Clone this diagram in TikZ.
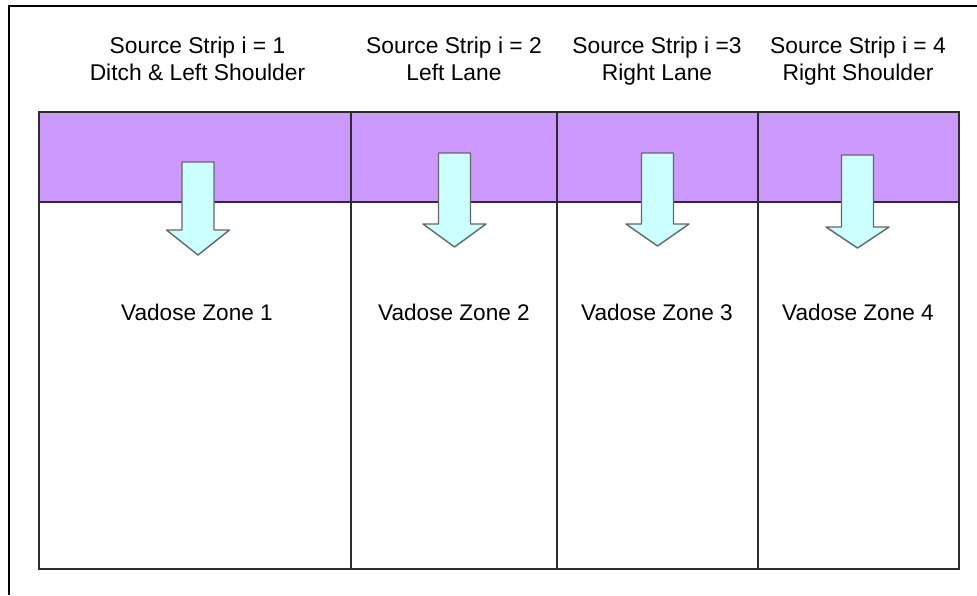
\documentclass[tikz,border=0pt]{standalone}
\usepackage{fontspec}
\setmainfont{Liberation Sans}
\usetikzlibrary{positioning}

\definecolor{stripviolet}{RGB}{204,153,255}
\definecolor{flowcyan}{RGB}{204,255,255}
\definecolor{gridgray}{RGB}{45,45,45}

\tikzset{
  striplabel/.style={align=center, inner sep=0pt, anchor=base,
    font=\fontsize{22.8}{27}\selectfont},
  zonelabel/.style={inner sep=0pt, font=\fontsize{22.6}{27}\selectfont},
  gridline/.style={draw=gridgray, line width=1.6pt},
  flowarrow/.style={draw=black!60, line width=1.4pt, fill=flowcyan, line join=round}
}

\begin{document}
\begin{tikzpicture}[x=1pt,y=-1pt]
  \useasboundingbox (0,0) rectangle (977,595);

  % frame
  \draw[line width=2pt] (9,595) -- (9,6) -- (977,6);

  % source strips
  \fill[stripviolet] (39,112) rectangle (959,202);
  \draw[gridline] (39,112) rectangle (959,569);
  \draw[gridline] (39,202) -- (959,202);
  \draw[gridline] (351,112) -- (351,569);
  \draw[gridline] (557,112) -- (557,569);
  \draw[gridline] (758,112) -- (758,569);

  % infiltration arrows
  \draw[flowarrow] (182,162) -- ++(32,0) -- ++(0,68) -- ++(15.5,0) -- ++(-31.5,25)
    -- ++(-31.5,-25) -- ++(15.5,0) -- cycle;
  \draw[flowarrow] (438.5,153) -- ++(32,0) -- ++(0,71) -- ++(15.5,0) -- ++(-31.5,23)
    -- ++(-31.5,-23) -- ++(15.5,0) -- cycle;
  \draw[flowarrow] (641.5,153) -- ++(32,0) -- ++(0,71) -- ++(15.5,0) -- ++(-31.5,22)
    -- ++(-31.5,-22) -- ++(15.5,0) -- cycle;
  \draw[flowarrow] (841.5,155) -- ++(32,0) -- ++(0,72) -- ++(15.5,0) -- ++(-31.5,21)
    -- ++(-31.5,-21) -- ++(15.5,0) -- cycle;

  % strip labels
  \node[striplabel] (strip1) at (197.5,80) {Source Strip i = 1\\Ditch \& Left Shoulder};
  \node[striplabel] (strip2) at (454,80) {Source Strip i = 2\\Left Lane};
  \node[striplabel] (strip3) at (657,80) {Source Strip i =3\\Right Lane};
  \node[striplabel] (strip4) at (858,80) {Source Strip i = 4\\Right Shoulder};

  % vadose zones
  \node[zonelabel] (zone1) at (197,312) {Vadose Zone 1};
  \node[zonelabel] (zone2) at (454,312) {Vadose Zone 2};
  \node[zonelabel] (zone3) at (657,312) {Vadose Zone 3};
  \node[zonelabel] (zone4) at (858,312) {Vadose Zone 4};
\end{tikzpicture}
\end{document}
